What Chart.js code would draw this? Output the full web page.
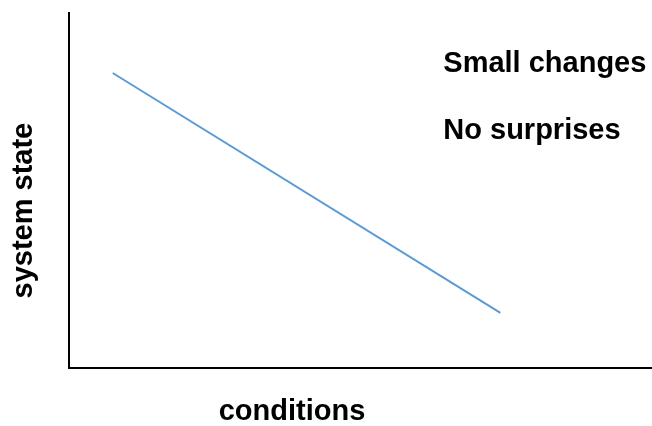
<!DOCTYPE html>
<html>
<head>
<meta charset="utf-8">
<script src="https://cdn.jsdelivr.net/npm/chart.js@4/dist/chart.umd.min.js"></script>
<style>
  html, body { margin: 0; padding: 0; background: #fff; }
  #wrap { width: 652px; height: 426px; }
</style>
</head>
<body>
<div id="wrap"><canvas id="c" width="652" height="426"></canvas></div>
<script>
// ---- data ----
const conditions = [7.5, 74.0];
const systemState = [83.1, 15.5];
const notes = ["Small changes", "No surprises"];
const noteX = [64.2, 64.2];
const noteY = [83.4, 64.5];
const xTitle = "conditions";
const yTitle = "system state";

const FONT = "'Liberation Sans', Arial, sans-serif";

const notesPlugin = {
  id: 'notes',
  afterDatasetsDraw(chart) {
    const ctx = chart.ctx;
    const xs = chart.scales.x, ys = chart.scales.y;
    ctx.save();
    ctx.fillStyle = '#000';
    ctx.font = 'bold 29px ' + FONT;
    ctx.textAlign = 'left';
    ctx.textBaseline = 'alphabetic';
    notes.forEach((t, i) => {
      ctx.fillText(t, xs.getPixelForValue(noteX[i]), ys.getPixelForValue(noteY[i]));
    });
    ctx.restore();
  }
};

const pad = n => '\u00a0'.repeat(n);

new Chart(document.getElementById('c'), {
  type: 'line',
  data: {
    datasets: [{
      data: conditions.map((x, i) => ({ x: x, y: systemState[i] })),
      borderColor: '#5B9BD5',
      borderWidth: 2,
      pointRadius: 0,
      tension: 0,
      fill: false
    }]
  },
  options: {
    responsive: false,
    devicePixelRatio: 1,
    animation: false,
    layout: { padding: { top: 13, right: 0, bottom: 0, left: 0 } },
    plugins: { legend: { display: false }, tooltip: { enabled: false } },
    scales: {
      x: {
        type: 'linear', min: 0, max: 100,
        grid: { display: false },
        border: { display: true, color: '#000', width: 2 },
        ticks: { display: false },
        title: {
          display: true, text: xTitle + pad(17), color: '#000',
          font: { family: FONT, size: 29, weight: 'bold', lineHeight: 1 },
          padding: { top: 0, bottom: 0 }
        },
        afterFit: s => { s.height = 58; }
      },
      y: {
        type: 'linear', min: 0, max: 100,
        grid: { display: false },
        border: { display: true, color: '#000', width: 2 },
        ticks: { display: false },
        title: {
          display: true, text: yTitle + pad(5), color: '#000',
          font: { family: FONT, size: 29, weight: 'bold', lineHeight: 1 },
          padding: { top: 9, bottom: 0 }
        },
        afterFit: s => { s.width = 69; }
      }
    }
  },
  plugins: [notesPlugin]
});
</script>
</body>
</html>
